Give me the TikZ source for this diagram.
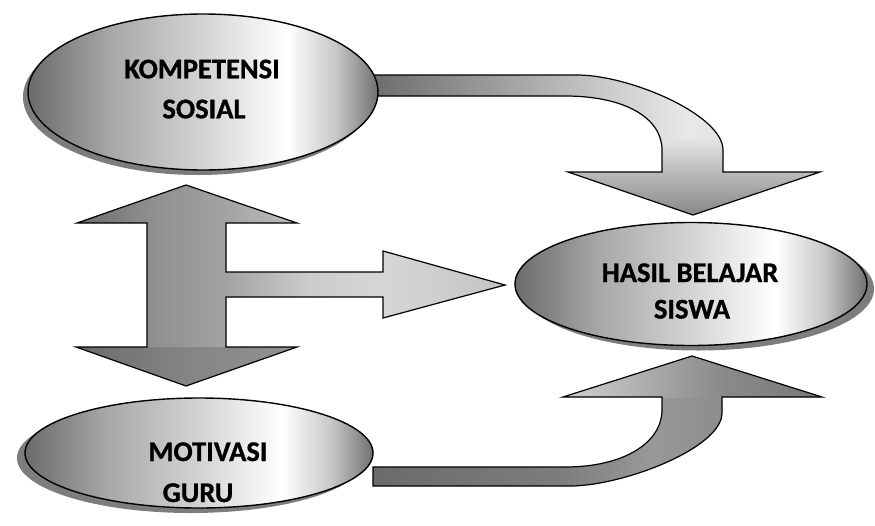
\documentclass[tikz,border=0pt]{standalone}
\usepackage{fontspec}
\setmainfont{Carlito}[BoldFont={Carlito Bold}, BoldFeatures={FakeBold=0.9}]
\usetikzlibrary{shapes.geometric,shadows}
\definecolor{shgray}{rgb}{0.49,0.49,0.49}
% ellipse fill
\pgfdeclarehorizontalshading{ellsh}{100bp}{rgb(0bp)=(.42,.42,.42); rgb(25bp)=(.42,.42,.42); rgb(37bp)=(.66,.66,.66); rgb(50bp)=(.83,.83,.83); rgb(62bp)=(1,1,1); rgb(69bp)=(.78,.78,.78); rgb(75bp)=(.44,.44,.44); rgb(100bp)=(.44,.44,.44)}
% top bent arrow
\pgfdeclarehorizontalshading{tash}{100bp}{rgb(0bp)=(.43,.43,.43); rgb(25bp)=(.43,.43,.43); rgb(39bp)=(.62,.62,.62); rgb(50bp)=(.78,.78,.78); rgb(60bp)=(.91,.91,.91); rgb(68bp)=(.87,.87,.87); rgb(75bp)=(.80,.80,.80); rgb(100bp)=(.80,.80,.80)}
\pgfdeclareverticalshading{tahd}{100bp}{rgb(0bp)=(.52,.52,.52); rgb(25bp)=(.52,.52,.52); rgb(54bp)=(.73,.73,.73); rgb(75bp)=(.89,.89,.89); rgb(100bp)=(.89,.89,.89)}
% bottom bent arrow
\pgfdeclarehorizontalshading{bash}{100bp}{rgb(0bp)=(.42,.42,.42); rgb(25bp)=(.42,.42,.42); rgb(46bp)=(.49,.49,.49); rgb(56bp)=(.60,.60,.60); rgb(64bp)=(.55,.55,.55); rgb(75bp)=(.50,.50,.50); rgb(100bp)=(.50,.50,.50)}
\pgfdeclarehorizontalshading{bahd}{100bp}{rgb(0bp)=(.82,.82,.82); rgb(25bp)=(.82,.82,.82); rgb(44bp)=(.65,.65,.65); rgb(50bp)=(.59,.59,.59); rgb(56bp)=(.54,.54,.54); rgb(75bp)=(.47,.47,.47); rgb(100bp)=(.47,.47,.47)}
% H arrow
\pgfdeclarehorizontalshading{hash}{100bp}{rgb(0bp)=(.42,.42,.42); rgb(25bp)=(.42,.42,.42); rgb(33bp)=(.55,.55,.55); rgb(38bp)=(.60,.60,.60); rgb(42.5bp)=(.64,.64,.64); rgb(51bp)=(.75,.75,.75); rgb(75bp)=(.78,.78,.78); rgb(100bp)=(.78,.78,.78)}
\pgfdeclarehorizontalshading{hbsh}{100bp}{rgb(0bp)=(.64,.64,.64); rgb(25bp)=(.64,.64,.64); rgb(40bp)=(.80,.80,.80); rgb(53bp)=(.84,.84,.84); rgb(65bp)=(.80,.80,.80); rgb(75bp)=(.76,.76,.76); rgb(100bp)=(.76,.76,.76)}
\pgfdeclarehorizontalshading{hbhd}{100bp}{rgb(0bp)=(.42,.42,.42); rgb(25bp)=(.42,.42,.42); rgb(50bp)=(.52,.52,.52); rgb(75bp)=(.57,.57,.57); rgb(100bp)=(.57,.57,.57)}
\def\TopArrowPath{(374,75) -- (577,75) .. controls (630,75) and (723,115) .. (723,150) -- (723,172) -- (820,172) -- (693,215) -- (568,172) -- (662,172) -- (662,150) .. controls (662,118) and (625,96) .. (565,96) -- (374,96) -- cycle}
\def\BotArrowPath{(373,467) -- (565,467) .. controls (625,467) and (662,442) .. (662,410) -- (662,397) -- (563,397) -- (692,356) -- (822,397) -- (722,397) -- (722,413) .. controls (722,448) and (623,486) .. (570,486) -- (373,486) -- cycle}
\def\HArrowPath{(186,185) -- (297,223) -- (226,223) -- (226,272) -- (383,272) -- (383,251) -- (505,285) -- (383,318) -- (383,297) -- (226,297) -- (226,347) -- (297,347) -- (186,386) -- (76,347) -- (147,347) -- (147,223) -- (77,223) -- cycle}
\begin{document}
\begin{tikzpicture}[x=1pt,y=-1pt,
  ellbox/.style={ellipse, draw=black, line width=1.4pt, inner sep=0pt, shading=ellsh},
  lbl/.style={anchor=base, inner sep=0pt, text=black, font=\fontsize{28.5}{34}\selectfont\bfseries},
  outline/.style={draw=black, line width=1.2pt, line join=miter}]
\useasboundingbox (0,0) rectangle (875,525);
\fill[white] (0,0) rectangle (875,525);

% top bent arrow: Kompetensi Sosial -> Hasil Belajar
\shade[shading=tash] \TopArrowPath;
\begin{scope}
  \clip \TopArrowPath;
  \shade[shading=tahd] (555,140) rectangle (830,217);
\end{scope}
\path[outline] \TopArrowPath;

% bottom bent arrow: Motivasi Guru -> Hasil Belajar
\shade[shading=bash] \BotArrowPath;
\begin{scope}
  \clip \BotArrowPath;
  \shade[shading=bahd] (563,350) rectangle (822,397.5);
\end{scope}
\path[outline] \BotArrowPath;

% double arrow with branch
\shade[shading=hash] \HArrowPath;
\begin{scope}
  \clip \HArrowPath;
  \shade[shading=hbsh] (226,248) rectangle (506,321);
  \shade[shading=hbhd] (76,347) rectangle (297,388);
\end{scope}
\path[outline] \HArrowPath;

% ellipses
\node[ellbox, minimum width=350pt, minimum height=156pt,
  drop shadow={shadow xshift=-5pt, shadow yshift=-5pt, fill=shgray, opacity=1}] (ks) at (203,92) {};
\node[ellbox, minimum width=352pt, minimum height=123pt,
  drop shadow={shadow xshift=7pt, shadow yshift=-5pt, fill=shgray, opacity=1}] (hb) at (691,284) {};
\node[ellbox, minimum width=348pt, minimum height=110pt,
  drop shadow={shadow xshift=-8pt, shadow yshift=-5pt, fill=shgray, opacity=1}] (mg) at (199,453) {};

% labels
\node[lbl] (ks1) at (202,78.3) {KOMPETENSI};
\node[lbl] (ks2) at (204,118.3) {SOSIAL};
\node[lbl] (hb1) at (690,282) {HASIL BELAJAR};
\begin{scope}
  \clip (560,290) rectangle (820,318.6);
  \node[lbl] (hb2) at (692,318.5) {SISWA};
\end{scope}
\node[lbl] (mg1) at (208,461) {MOTIVASI};
\begin{scope}
  \clip (100,470) rectangle (300,502.1);
  \node[lbl] (mg2) at (198,502) {GURU};
\end{scope}
\end{tikzpicture}
\end{document}
